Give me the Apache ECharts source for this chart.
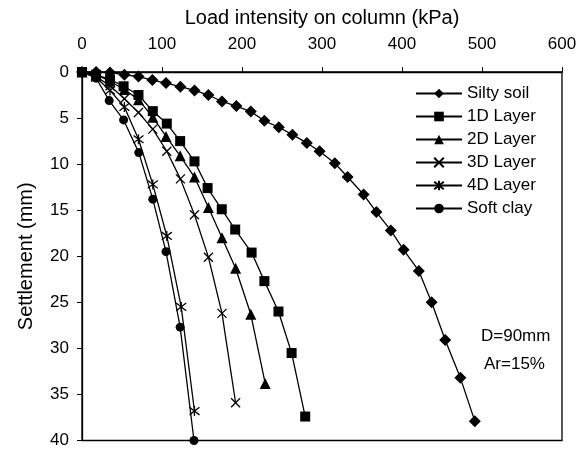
<!DOCTYPE html>
<html><head><meta charset="utf-8">
<script src="https://cdn.jsdelivr.net/npm/echarts@6/dist/echarts.min.js"></script>
<style>html,body{margin:0;padding:0;background:#fff;}#c{width:583px;height:449px;}</style>
</head><body><div id="c"></div>
<script>
const siltyX = [0,17.6,35,53,70.6,88,105,123,140.6,158,175,193,211,228,246,263,281,297,316,332,352,368,386,402,421,437,454,473,491];
const siltyY = [0,0,0.05,0.3,0.5,0.87,1.2,1.6,2.0,2.5,3.2,3.7,4.3,5.3,6.0,6.8,7.7,8.6,9.9,11.4,13.3,15.2,17.2,19.3,21.6,25.0,29.1,33.2,37.9];
const d1X = [0,17.6,35,52,70.6,88.5,106,122.7,140.6,157,174.7,191.5,212,228,245.6,262,279];
const d1Y = [0,0.3,0.8,1.55,2.5,4.25,5.6,7.5,9.7,12.6,14.9,17.1,19.6,22.7,26.0,30.5,37.4];
const d2X = [0,17.6,35,53,70.6,88.5,105,122.7,140.6,158,175,192,211,229];
const d2Y = [0,0.3,1.0,1.9,3.0,4.9,7.0,9.1,11.4,14.7,18.0,21.3,26.3,33.8];
const d3X = [0,17.6,35,53,70.6,88.5,106,123,140.6,158,175,192];
const d3Y = [0,0.5,1.5,2.9,4.4,6.2,8.6,11.6,15.5,20.1,26.2,35.9];
const d4X = [0,17.6,35,53,70.6,88.5,106,124,140.6];
const d4Y = [0,0.6,2.0,3.8,7.3,12.2,17.8,25.5,36.8];
const clayX = [0,17.6,34,52,71,88.5,105,122.7,140];
const clayY = [0,0.65,3.1,5.2,8.75,13.8,19.5,27.7,40];
const xTicks = [0,100,200,300,400,500,600];
const yTicks = [0,5,10,15,20,25,30,35,40];
const names = ['Silty soil','1D Layer','2D Layer','3D Layer','4D Layer','Soft clay'];

const FONT = 'Liberation Sans, Arial, sans-serif';
const pair = (xs, ys) => xs.map((v,i)=>[v, ys[i]]);
const crossPath = 'path://M0,0 L10,10 M10,0 L0,10';
const starPath = 'path://M0,0 L10,10 M10,0 L0,10 M5,-1.5 L5,11.5';
function ser(name, xs, ys, symbol, size) {
  return {
    name, type:'line', data: pair(xs, ys), symbol, symbolSize: size,
    showAllSymbol: true,
    lineStyle:{color:'#000', width:1.3},
    itemStyle:{color:'#000', borderColor:'#000', borderWidth: (symbol.startsWith('path')?1.3:0)},
    emphasis:{disabled:true}, animation:false, z: 3
  };
}
const chart = echarts.init(document.getElementById('c'), null, {renderer:'canvas'});
chart.setOption({
  animation:false,
  textStyle:{fontFamily:FONT},
  grid:{left:82, right:21, top:72, bottom:7, show:true, borderColor:'#000', borderWidth:1.3},
  xAxis:{
    type:'value', position:'top', min:xTicks[0], max:xTicks[xTicks.length-1], interval:100,
    name:'Load intensity on column (kPa)', nameLocation:'middle', nameGap:44,
    nameTextStyle:{fontSize:20, color:'#000', fontFamily:FONT},
    axisLine:{lineStyle:{color:'#000', width:1.3}},
    axisTick:{show:true, inside:false, length:5, lineStyle:{color:'#000'}},
    axisLabel:{fontSize:17, color:'#000', margin:19, fontFamily:FONT},
    splitLine:{show:false}
  },
  yAxis:{
    type:'value', inverse:true, min:yTicks[0], max:yTicks[yTicks.length-1], interval:5,
    name:'Settlement (mm)', nameLocation:'middle', nameGap:46, nameRotate:90,
    nameTextStyle:{fontSize:20, color:'#000', fontFamily:FONT},
    axisLine:{lineStyle:{color:'#000', width:1.3}},
    axisTick:{show:true, inside:false, length:5, lineStyle:{color:'#000'}},
    axisLabel:{fontSize:17, color:'#000', margin:13, fontFamily:FONT},
    splitLine:{show:false}
  },
  legend:{
    orient:'vertical', left:410, top:80, itemGap:6, itemWidth:46, itemHeight:12,
    textStyle:{fontSize:17, color:'#000', fontFamily:FONT},
    data:names
  },
  graphic:[
    {type:'text', left:481, top:328, style:{text:'D=90mm', font:'17px '+FONT, fill:'#000'}},
    {type:'text', left:484, top:356, style:{text:'Ar=15%', font:'17px '+FONT, fill:'#000'}}
  ],
  series:[
    ser(names[0], siltyX, siltyY, 'diamond', 12),
    ser(names[1], d1X, d1Y, 'rect', 10),
    ser(names[2], d2X, d2Y, 'triangle', 11),
    ser(names[3], d3X, d3Y, crossPath, 9),
    ser(names[4], d4X, d4Y, starPath, 10),
    ser(names[5], clayX, clayY, 'circle', 9)
  ]
});
</script></body></html>
